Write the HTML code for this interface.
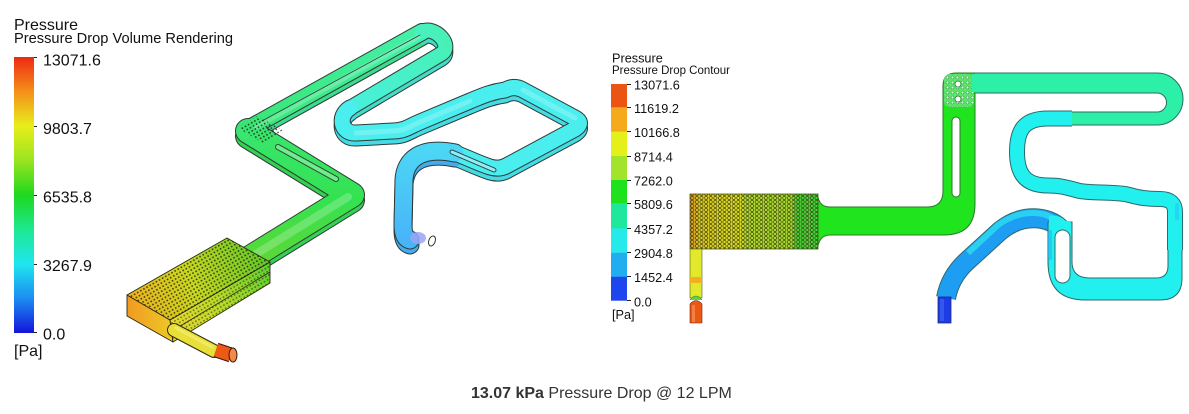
<!DOCTYPE html>
<html><head><meta charset="utf-8">
<style>
html,body{margin:0;padding:0;background:#fff;}
body{width:1189px;height:414px;overflow:hidden;position:relative;}
svg{position:absolute;left:0;top:0;}
</style></head><body>
<svg width="1189" height="414" viewBox="0 0 1189 414" xmlns="http://www.w3.org/2000/svg" font-family="'Liberation Sans', sans-serif">
<defs>
  <linearGradient id="lbar" x1="0" y1="0" x2="0" y2="1">
    <stop offset="0" stop-color="#ee2a12"/>
    <stop offset="0.125" stop-color="#f4901a"/>
    <stop offset="0.25" stop-color="#e8ee1a"/>
    <stop offset="0.375" stop-color="#9ae420"/>
    <stop offset="0.5" stop-color="#1ed81e"/>
    <stop offset="0.625" stop-color="#1ee890"/>
    <stop offset="0.75" stop-color="#1ee6f0"/>
    <stop offset="0.875" stop-color="#1c8cf0"/>
    <stop offset="1" stop-color="#1414dc"/>
  </linearGradient>
  <pattern id="dots" width="3.6" height="3.6" patternUnits="userSpaceOnUse" patternTransform="rotate(-30)">
    <circle cx="1.8" cy="1.8" r="0.9" fill="#1a1a08" fill-opacity="0.8"/>
  </pattern>
  <pattern id="hex" width="4.6" height="4" patternUnits="userSpaceOnUse">
    <circle cx="2.3" cy="2" r="1.6" fill="none" stroke="#3a3a08" stroke-opacity="0.9" stroke-width="0.8"/>
  </pattern>
  <pattern id="wdots" width="5" height="5" patternUnits="userSpaceOnUse">
    <circle cx="2.5" cy="2.5" r="1.5" fill="#c8ffd0" stroke="#3a9a4a" stroke-width="0.6"/>
  </pattern>
  <linearGradient id="rbox" gradientUnits="userSpaceOnUse" x1="690" y1="0" x2="818" y2="0">
    <stop offset="0" stop-color="#e89a28"/>
    <stop offset="0.08" stop-color="#e0d024"/>
    <stop offset="0.41" stop-color="#dde424"/>
    <stop offset="0.42" stop-color="#b4e030"/>
    <stop offset="0.8" stop-color="#a8e030"/>
    <stop offset="0.82" stop-color="#4cd838"/>
    <stop offset="1" stop-color="#40d840"/>
  </linearGradient>
  <linearGradient id="gG12" gradientUnits="userSpaceOnUse" x1="0" y1="262" x2="0" y2="122">
    <stop offset="0" stop-color="#5cd836"/>
    <stop offset="0.45" stop-color="#34e250"/>
    <stop offset="1" stop-color="#3ae672"/>
  </linearGradient>
  <linearGradient id="gG3" gradientUnits="userSpaceOnUse" x1="246" y1="130" x2="440" y2="35">
    <stop offset="0" stop-color="#38e674"/>
    <stop offset="1" stop-color="#46f0ae"/>
  </linearGradient>
  <linearGradient id="gU" gradientUnits="userSpaceOnUse" x1="445" y1="40" x2="350" y2="110">
    <stop offset="0" stop-color="#48f0b8"/>
    <stop offset="1" stop-color="#48f0dc"/>
  </linearGradient>
  <linearGradient id="gBl" gradientUnits="userSpaceOnUse" x1="0" y1="150" x2="0" y2="242">
    <stop offset="0" stop-color="#4cd6f6"/>
    <stop offset="1" stop-color="#48b4f8"/>
  </linearGradient>
  <linearGradient id="ltop" gradientUnits="userSpaceOnUse" x1="127" y1="300" x2="265" y2="245">
    <stop offset="0" stop-color="#f0b020"/>
    <stop offset="0.45" stop-color="#c8d820"/>
    <stop offset="1" stop-color="#5cc828"/>
  </linearGradient>
  <linearGradient id="lfront" gradientUnits="userSpaceOnUse" x1="170" y1="330" x2="270" y2="270">
    <stop offset="0" stop-color="#ecd830"/>
    <stop offset="0.5" stop-color="#b8dc28"/>
    <stop offset="1" stop-color="#60d030"/>
  </linearGradient>
  <linearGradient id="lleft" gradientUnits="userSpaceOnUse" x1="127" y1="0" x2="172" y2="0">
    <stop offset="0" stop-color="#f09a20"/>
    <stop offset="1" stop-color="#eec828"/>
  </linearGradient>
</defs>

<!-- ============ LEFT LEGEND ============ -->
<text x="14" y="30" font-size="16" fill="#111">Pressure</text>
<text x="14" y="43" font-size="14.6" fill="#111" textLength="219" lengthAdjust="spacingAndGlyphs">Pressure Drop Volume Rendering</text>
<rect x="14" y="57" width="20" height="276" fill="url(#lbar)"/>
<g stroke="#222" stroke-width="1">
  <line x1="34" y1="57.5" x2="37" y2="57.5"/>
  <line x1="34" y1="126.5" x2="37" y2="126.5"/>
  <line x1="34" y1="195.5" x2="37" y2="195.5"/>
  <line x1="34" y1="264.5" x2="37" y2="264.5"/>
  <line x1="34" y1="332.5" x2="37" y2="332.5"/>
</g>
<g font-size="16" fill="#111">
  <text x="43" y="65.5">13071.6</text>
  <text x="43" y="134">9803.7</text>
  <text x="43" y="202.5">6535.8</text>
  <text x="43" y="271">3267.9</text>
  <text x="43" y="339.5">0.0</text>
  <text x="14" y="356">[Pa]</text>
</g>

<!-- ============ LEFT 3D RENDER ============ -->
<g fill="none" stroke-linecap="round" stroke-linejoin="round">
  <!-- depth outlines -->
  <g transform="translate(0,5)" stroke="#2e3a38">
    <path d="M250 258 L352 195 L248 131" stroke-width="26"/>
    <path d="M246 130 L422 32" stroke-width="18"/>
    <path d="M422 32 C435 25 454 46 441 54 L350 108" stroke-width="16"/>
    <path d="M350 108 C337 116 341 134 356 133 L393 131 C405 131 410 126 420 122 L470 101 C480 97 490 92 505 90 Q514 85 523 90 L575 118 Q584 123 575 129 L508 165 Q500 170 490 167 C478 163 468 158 455 153" stroke-width="17"/>
    <path d="M455 153 C420 146 405 160 404 180 L403 225 Q403 238 410 240" stroke-width="19"/>
  </g>
  <g transform="translate(0,5)">
    <path d="M250 258 L352 195 L248 131" stroke-width="24" stroke="#34d250"/>
    <path d="M246 130 L422 32" stroke-width="16" stroke="#3cdc8c"/>
    <path d="M422 32 C435 25 454 46 441 54 L350 108" stroke-width="14" stroke="#44dcc6"/>
    <path d="M350 108 C337 116 341 134 356 133 L393 131 C405 131 410 126 420 122 L470 101 C480 97 490 92 505 90 Q514 85 523 90 L575 118 Q584 123 575 129 L508 165 Q500 170 490 167 C478 163 468 158 455 153" stroke-width="15" stroke="#44dce4"/>
    <path d="M455 153 C420 146 405 160 404 180 L403 225 Q403 238 410 240" stroke-width="17" stroke="#44acec"/>
  </g>
  <!-- top outlines -->
  <g stroke="#2e3a38">
    <path d="M250 258 L352 195 L248 131" stroke-width="26"/>
    <path d="M246 130 L422 32" stroke-width="18"/>
    <path d="M422 32 C435 25 454 46 441 54 L350 108" stroke-width="16"/>
    <path d="M350 108 C337 116 341 134 356 133 L393 131 C405 131 410 126 420 122 L470 101 C480 97 490 92 505 90 Q514 85 523 90 L575 118 Q584 123 575 129 L508 165 Q500 170 490 167 C478 163 468 158 455 153" stroke-width="17"/>
    <path d="M455 153 C420 146 405 160 404 180 L403 225 Q403 238 410 240" stroke-width="19"/>
  </g>
  <!-- top faces -->
  <path d="M250 258 L352 195 L248 131" stroke-width="24" stroke="url(#gG12)"/>
  <path d="M246 130 L422 32" stroke-width="16" stroke="url(#gG3)"/>
  <path d="M422 32 C435 25 454 46 441 54 L350 108" stroke-width="14" stroke="url(#gU)"/>
  <path d="M350 108 C337 116 341 134 356 133 L393 131 C405 131 410 126 420 122 L470 101 C480 97 490 92 505 90 Q514 85 523 90 L575 118 Q584 123 575 129 L508 165 Q500 170 490 167 C478 163 468 158 455 153" stroke-width="15" stroke="#4aeeee"/>
  <path d="M455 153 C420 146 405 160 404 180 L403 225 Q403 238 410 240" stroke-width="17" stroke="url(#gBl)"/>
  <!-- highlights -->
  <g stroke="#ffffff" stroke-opacity="0.22">
    <path d="M256 254 L348 197" stroke-width="8"/>
    <path d="M256 127 L418 37" stroke-width="5"/>
    <path d="M356 133 L393 131 C405 131 410 126 420 122 L470 101" stroke-width="5"/>
    <path d="M523 90 L575 118" stroke-width="5"/>
  </g>
  <!-- inner slot lines -->
  <path d="M278 147 L336 179" stroke="#2e4a34" stroke-width="6"/>
  <path d="M278 147 L336 179" stroke="#72ea8e" stroke-width="4"/>
  <path d="M452 152 L494 170" stroke="#2e4448" stroke-width="5"/>
  <path d="M452 152 L494 170" stroke="#8ef0f4" stroke-width="3"/>
  <path d="M262 121 L420 35" stroke="#2e3a38" stroke-width="0.8"/>
</g>
<!-- corner porous block -->
<polygon points="238,128 257,116 283,130 263,143" fill="url(#dots)"/>
<!-- outlet ring -->
<ellipse cx="418" cy="238" rx="8" ry="6" fill="#9aa4f6" fill-opacity="0.85"/>
<ellipse cx="432" cy="241" rx="3.2" ry="5.2" transform="rotate(20 432 241)" fill="none" stroke="#333" stroke-width="1"/>

<!-- porous box -->
<g stroke="#2a2a10" stroke-width="0.9" stroke-linejoin="round">
  <polygon points="127,295 170,320 173,342 127,316" fill="url(#lleft)"/>
  <polygon points="170,320 270,262 270,283 173,342" fill="url(#lfront)"/>
  <polygon points="127,295 227,238 270,262 170,320" fill="url(#ltop)"/>
</g>
<polygon points="127,295 227,238 270,262 170,320" fill="url(#dots)"/>
<polygon points="170,320 270,262 270,283 173,342" fill="url(#dots)" opacity="0.7"/>
<line x1="270" y1="272" x2="172" y2="331" stroke="#2a2a10" stroke-width="0.8"/>
<!-- inlet pipe -->
<g stroke-linecap="round" fill="none">
  <path d="M174 330 L214 351" stroke="#2e2e10" stroke-width="14"/>
  <path d="M174 330 L214 351" stroke="#e8e038" stroke-width="12"/>
  <path d="M176 328 L212 347" stroke="#fff8a0" stroke-opacity="0.4" stroke-width="3"/>
  <path d="M216 350 L231 355" stroke="#2e1a10" stroke-width="15" stroke-linecap="butt"/>
  <path d="M216 350 L231 355" stroke="#ee5a16" stroke-width="13" stroke-linecap="butt"/>
</g>
<ellipse cx="233" cy="355" rx="4" ry="7" fill="#f28a4a" stroke="#2e1a10" stroke-width="1"/>

<!-- ============ RIGHT LEGEND ============ -->
<text x="612" y="62.5" font-size="12.7" fill="#111">Pressure</text>
<text x="612" y="74" font-size="11.5" fill="#111" textLength="118" lengthAdjust="spacingAndGlyphs">Pressure Drop Contour</text>
<rect x="611" y="84" width="16" height="24" fill="#ec5414"/>
<rect x="611" y="107.3" width="16" height="24.6" fill="#f4aa1a"/>
<rect x="611" y="131.7" width="16" height="24.5" fill="#e4f01a"/>
<rect x="611" y="156" width="16" height="24.2" fill="#a2e42c"/>
<rect x="611" y="180" width="16" height="23.5" fill="#1ee21e"/>
<rect x="611" y="203.3" width="16" height="25.2" fill="#1ee89c"/>
<rect x="611" y="228.3" width="16" height="24.6" fill="#24eaea"/>
<rect x="611" y="252.7" width="16" height="24.2" fill="#20aef0"/>
<rect x="611" y="276.7" width="16" height="24" fill="#1e46ee"/>
<g stroke="#222" stroke-width="1">
  <line x1="627" y1="84.5" x2="631" y2="84.5"/>
  <line x1="627" y1="107.5" x2="631" y2="107.5"/>
  <line x1="627" y1="131.5" x2="631" y2="131.5"/>
  <line x1="627" y1="156.5" x2="631" y2="156.5"/>
  <line x1="627" y1="180.5" x2="631" y2="180.5"/>
  <line x1="627" y1="203.5" x2="631" y2="203.5"/>
  <line x1="627" y1="228.5" x2="631" y2="228.5"/>
  <line x1="627" y1="252.5" x2="631" y2="252.5"/>
  <line x1="627" y1="276.5" x2="631" y2="276.5"/>
  <line x1="627" y1="300.5" x2="631" y2="300.5"/>
</g>
<g font-size="12.7" fill="#111">
  <text x="634" y="89.5">13071.6</text>
  <text x="634" y="112.8">11619.2</text>
  <text x="634" y="137.2">10166.8</text>
  <text x="634" y="161.5">8714.4</text>
  <text x="634" y="185.5">7262.0</text>
  <text x="634" y="208.8">5809.6</text>
  <text x="634" y="233.8">4357.2</text>
  <text x="634" y="258.2">2904.8</text>
  <text x="634" y="282.2">1452.4</text>
  <text x="634" y="306.5">0.0</text>
  <text x="612" y="319">[Pa]</text>
</g>

<!-- ============ RIGHT CONTOUR ============ -->
<!-- outlines for stroked channels -->
<g fill="none" stroke="#2b6a6e" stroke-linejoin="round">
  <path d="M1072 118.5 L1048 118.5 C1024 118.5 1017 130 1017 152 C1017 175 1026 185.5 1048 185.5 C1062 185.5 1068 188 1080 191 C1090 193 1110 192 1125 194 C1135 196 1140 199 1160 199 Q1175 199 1175 212 L1175 250" stroke-width="16" stroke-linecap="butt"/>
  <path d="M1060 228 C1048 216 1022 213 1000 231 L966 262 Q950 277 946 298" stroke-width="20" stroke-linecap="butt"/>
</g>
<!-- green shape -->
<path d="M817 194 C819 203 822 207 830 207 L927 207 Q943 207 943 191 L943 86 Q943 73 956 73 L975 73 L975 204 Q975 235 944 235 L830 235 C822 235 819 240 817 249 Z" fill="#20e41e" stroke="#2a7a2a" stroke-width="1"/>
<!-- porous corner -->
<rect x="944" y="74" width="30" height="33" rx="6" fill="#5ae86a"/>
<rect x="944" y="74" width="30" height="33" rx="6" fill="url(#wdots)"/>
<circle cx="958" cy="84" r="3" fill="#fff" stroke="#2a7a2a" stroke-width="0.8"/>
<circle cx="958" cy="99" r="3" fill="#fff" stroke="#2a7a2a" stroke-width="0.8"/>
<rect x="952" y="117" width="8" height="80" rx="4" fill="#fff" stroke="#2a7a2a" stroke-width="1"/>
<!-- mint channel -->
<path d="M975 73 L1157 73 A26 26 0 0 1 1157 125 L1070 125 L1070 112 L1157 112 A9.5 9.5 0 0 0 1157 93 L975 93" fill="#2cf0a8" stroke="#2b6e5e" stroke-width="1"/>
<rect x="972" y="74" width="4" height="18" fill="#2cf0a8"/>
<!-- blue arc -->
<g fill="none" stroke-linejoin="round">
  <path d="M1060 228 C1048 216 1022 213 1000 231 L966 262 Q950 277 946 298" stroke-width="18" stroke="#1e9ef2" stroke-linecap="butt"/>
  <path d="M1058 222 C1046 211 1022 208 998 225 L968 253" stroke-width="6" stroke="#28d0f2" stroke-linecap="butt"/>
</g>
<!-- bottom loop filled shape -->
<path d="M1168 236 L1168 266 Q1168 278 1156 278 L1090 278 Q1072 278 1072 262 L1072 222 L1048 222 L1048 262 Q1048 300 1085 300 L1160 300 Q1182 300 1182 278 L1182 236 Z" fill="#22f0ee" stroke="#2b6a6e" stroke-width="1"/>
<!-- cyan thin channel -->
<path d="M1072 118.5 L1048 118.5 C1024 118.5 1017 130 1017 152 C1017 175 1026 185.5 1048 185.5 C1062 185.5 1068 188 1080 191 C1090 193 1110 192 1125 194 C1135 196 1140 199 1160 199 Q1175 199 1175 212 L1175 250" fill="none" stroke-width="14" stroke="#22f0ee" stroke-linejoin="round"/>
<!-- patch over joint between blue arc and cyan loop -->
<path d="M1049 221 L1071 221 L1071 227 L1049 227 Z" fill="#22f0ee"/>
<path d="M1049 216 Q1058 214 1066 221 L1049 224 Z" fill="#22f0ee"/>
<g fill="none" stroke-linecap="round">
  <path d="M1050 232 L1050 258" stroke-width="4" stroke="#20b8f0" stroke-opacity="0.6"/>
  <path d="M1177 205 L1177 218" stroke-width="4" stroke="#20c8f0" stroke-opacity="0.6"/>
</g>
<rect x="1055" y="230" width="15" height="53" rx="7.5" fill="#fff" stroke="#2b6a6e" stroke-width="1"/>
<!-- outlet -->
<rect x="938" y="297" width="13" height="26" fill="#1e3ce6" stroke="#1a2a80" stroke-width="0.8"/>
<rect x="940" y="299" width="4" height="22" fill="#3a64f0" opacity="0.7"/>

<!-- porous box (right) -->
<rect x="690" y="194" width="128" height="55" fill="url(#rbox)" stroke="#4a5a20" stroke-width="0.8"/>
<rect x="690" y="194" width="128" height="55" fill="url(#hex)"/>
<!-- inlet (right) -->
<rect x="690" y="249" width="12" height="49" fill="#e2e82a" stroke="#5a5a20" stroke-width="0.6"/>
<rect x="690" y="277" width="12" height="6" fill="#f2b020"/>
<path d="M690 300 Q696 292 702 300" fill="#5ad840" stroke="#3a7a2a" stroke-width="0.6"/>
<path d="M690 323 L690 304 Q696 297 702 304 L702 323 Z" fill="#ea5812" stroke="#7a2a10" stroke-width="0.6"/>
<rect x="692" y="305" width="3" height="17" fill="#f48a50" opacity="0.8"/>

<!-- ============ CAPTION ============ -->
<text x="471" y="398" font-size="16" fill="#333"><tspan font-weight="bold">13.07 kPa</tspan> Pressure Drop @ 12 LPM</text>
</svg>
</body></html>
